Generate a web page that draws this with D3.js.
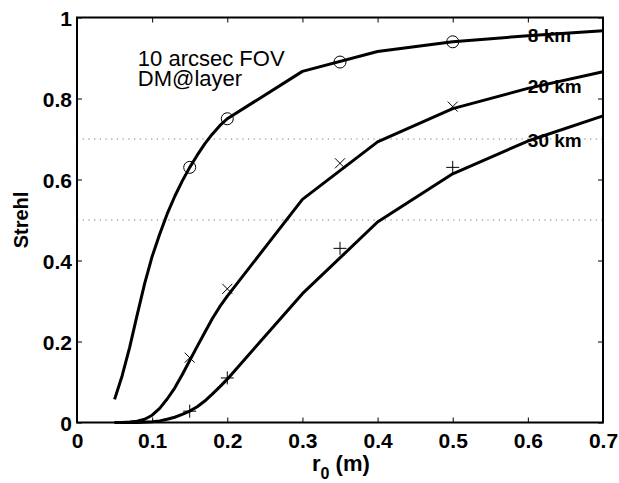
<!DOCTYPE html>
<html>
<head>
<meta charset="utf-8">
<script src="https://cdn.jsdelivr.net/npm/d3@7"></script>
<style>
  body { margin: 0; background: white; }
  svg { display: block; font-family: "Liberation Sans", Arial, sans-serif; }
</style>
</head>
<body>
<svg id="chart"></svg>
<script>
// r0 (m) and Strehl values, one pair of arrays per layer height
const r0_8km = [0.05, 0.06, 0.07, 0.08, 0.09, 0.10, 0.11, 0.12, 0.13, 0.14, 0.15, 0.16, 0.17, 0.18, 0.19, 0.20, 0.30, 0.40, 0.50, 0.60, 0.70]
const strehl_8km = [0.057, 0.115, 0.185, 0.265, 0.343, 0.41, 0.465, 0.515, 0.558, 0.596, 0.63, 0.66, 0.688, 0.712, 0.733, 0.75, 0.867, 0.916, 0.94, 0.955, 0.967]

const r0_20km = [0.05, 0.06, 0.07, 0.08, 0.09, 0.10, 0.11, 0.12, 0.13, 0.14, 0.15, 0.16, 0.17, 0.18, 0.19, 0.20, 0.30, 0.40, 0.50, 0.60, 0.70]
const strehl_20km = [0, 0, 0.001, 0.003, 0.008, 0.018, 0.035, 0.058, 0.085, 0.118, 0.153, 0.188, 0.222, 0.256, 0.286, 0.312, 0.551, 0.693, 0.775, 0.825, 0.866]

const r0_30km = [0.05, 0.08, 0.10, 0.11, 0.12, 0.13, 0.14, 0.15, 0.16, 0.17, 0.18, 0.19, 0.20, 0.30, 0.40, 0.50, 0.60, 0.70]
const strehl_30km = [0, 0, 0.002, 0.004, 0.008, 0.013, 0.02, 0.028, 0.039, 0.053, 0.07, 0.088, 0.107, 0.318, 0.495, 0.614, 0.695, 0.757]

// simulation points drawn as markers
const markR0 = [0.15, 0.20, 0.35, 0.50]
const mark_8km = [0.63, 0.75, 0.89, 0.94]
const mark_20km = [0.16, 0.33, 0.64, 0.78]
const mark_30km = [0.028, 0.11, 0.43, 0.63]

const xTicks = [0, 0.1, 0.2, 0.3, 0.4, 0.5, 0.6, 0.7]
const yTicks = [0, 0.2, 0.4, 0.6, 0.8, 1]
const refLines = [0.5, 0.7]
const seriesNames = ['8 km', '20 km', '30 km']

const width = 619
const height = 483
const margin = { top: 17.5, right: 16, bottom: 60.5, left: 77 }
const innerWidth = width - margin.left - margin.right
const innerHeight = height - margin.top - margin.bottom

const svg = d3.select('#chart')
    .attr('width', width)
    .attr('height', height)

const x = d3.scaleLinear().domain([0, 0.7]).range([0, innerWidth])
const y = d3.scaleLinear().domain([0, 1]).range([innerHeight, 0])

const g = svg.append('g')
    .attr('transform', `translate(${margin.left},${margin.top})`)

// dotted reference lines
g.selectAll('.ref')
    .data(refLines)
    .enter()
    .append('line')
    .attr('class', 'ref')
    .attr('x1', 0)
    .attr('x2', innerWidth)
    .attr('y1', d => y(d))
    .attr('y2', d => y(d))
    .attr('stroke', '#777')
    .attr('stroke-width', 1)
    .attr('stroke-dasharray', '1.2,4.5')

// axes, ticks pointing inwards on all four sides
const styleAxis = sel => {
    sel.select('.domain').remove()
    sel.selectAll('.tick line').attr('stroke', '#000').attr('stroke-width', 1)
    sel.selectAll('.tick text')
        .style('font-size', '21px')
        .style('font-weight', 'bold')
        .attr('fill', '#000')
}

g.append('g')
    .attr('transform', `translate(0,${innerHeight})`)
    .call(d3.axisBottom(x).tickValues(xTicks).tickSize(-5).tickPadding(11).tickFormat(d3.format('~g')))
    .call(styleAxis)

g.append('g')
    .call(d3.axisLeft(y).tickValues(yTicks).tickSize(-5).tickPadding(5).tickFormat(d3.format('~g')))
    .call(styleAxis)
    .selectAll('.tick text').attr('dy', '0.36em')

const topAxis = g.append('g')
    .call(d3.axisTop(x).tickValues(xTicks).tickSize(-5))
    .call(styleAxis)
topAxis.selectAll('.tick text').remove()

const rightAxis = g.append('g')
    .attr('transform', `translate(${innerWidth},0)`)
    .call(d3.axisRight(y).tickValues(yTicks).tickSize(-5))
    .call(styleAxis)
rightAxis.selectAll('.tick text').remove()

g.append('rect')
    .attr('width', innerWidth)
    .attr('height', innerHeight)
    .attr('fill', 'none')
    .attr('stroke', '#000')
    .attr('stroke-width', 2)

// curves
const line = d3.line()
    .x(d => x(d[0]))
    .y(d => y(d[1]))

const curves = [
    d3.zip(r0_8km, strehl_8km),
    d3.zip(r0_20km, strehl_20km),
    d3.zip(r0_30km, strehl_30km)
]

g.selectAll('.curve')
    .data(curves)
    .enter()
    .append('path')
    .attr('class', 'curve')
    .attr('d', line)
    .attr('fill', 'none')
    .attr('stroke', '#000')
    .attr('stroke-width', 3)
    .attr('stroke-linejoin', 'round')

// markers
g.selectAll('.circ')
    .data(d3.zip(markR0, mark_8km))
    .enter()
    .append('circle')
    .attr('cx', d => x(d[0]))
    .attr('cy', d => y(d[1]))
    .attr('r', 6)
    .attr('fill', 'none')
    .attr('stroke', '#000')
    .attr('stroke-width', 1)

g.selectAll('.cross')
    .data(d3.zip(markR0, mark_20km))
    .enter()
    .append('path')
    .attr('d', d => {
        const cx = x(d[0]), cy = y(d[1]), s = 5
        return `M${cx - s},${cy - s}L${cx + s},${cy + s}M${cx - s},${cy + s}L${cx + s},${cy - s}`
    })
    .attr('stroke', '#000')
    .attr('stroke-width', 1)

g.selectAll('.plus')
    .data(d3.zip(markR0, mark_30km))
    .enter()
    .append('path')
    .attr('d', d => {
        const cx = x(d[0]), cy = y(d[1]), s = 6.5
        return `M${cx - s},${cy}L${cx + s},${cy}M${cx},${cy - s}L${cx},${cy + s}`
    })
    .attr('stroke', '#000')
    .attr('stroke-width', 1)

// curve labels
const labelY = [0.94, 0.813, 0.681]
g.selectAll('.lbl')
    .data(seriesNames)
    .enter()
    .append('text')
    .attr('x', x(0.6))
    .attr('y', (d, i) => y(labelY[i]))
    .style('font-size', '19px')
    .style('font-weight', 'bold')
    .text(d => d)

// annotation
g.append('text')
    .attr('x', x(0.081))
    .attr('y', y(0.88))
    .style('font-size', '22px')
    .text('10 arcsec FOV')
g.append('text')
    .attr('x', x(0.081))
    .attr('y', y(0.832))
    .style('font-size', '22px')
    .text('DM@layer')

// axis titles
svg.append('text')
    .attr('transform', 'translate(28,220) rotate(-90)')
    .attr('text-anchor', 'middle')
    .style('font-size', '20px')
    .style('font-weight', 'bold')
    .text('Strehl')

const xt = svg.append('text')
    .attr('x', 312)
    .attr('y', 471)
    .style('font-size', '22px')
    .style('font-weight', 'bold')
xt.append('tspan').text('r')
xt.append('tspan').attr('dy', 8).style('font-size', '16px').text('0')
xt.append('tspan').attr('dy', -8).text(' (m)')
</script>
</body>
</html>
